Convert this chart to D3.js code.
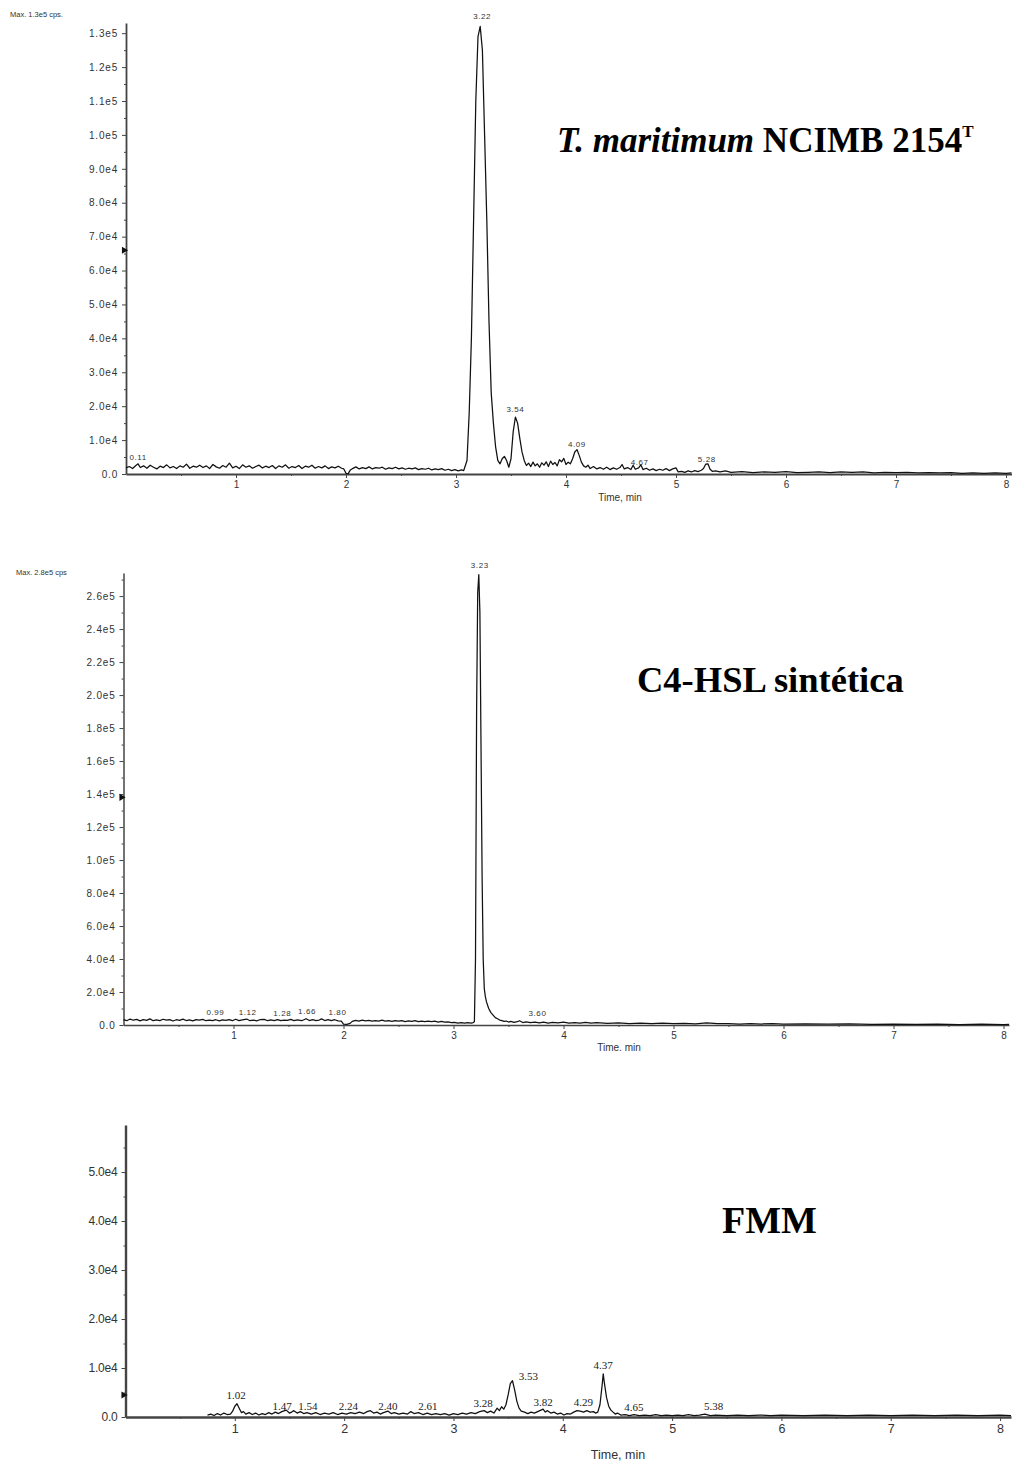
<!DOCTYPE html>
<html>
<head>
<meta charset="utf-8">
<script src="https://cdn.jsdelivr.net/npm/d3@7"></script>
<style>
  body { margin: 0; background: #fff; }
  svg { display: block; }
  .trace { fill: none; stroke: #111; stroke-width: 1.25; stroke-linejoin: round; }
  .ax path, .ax line { stroke: #444; }
  .ax text { fill: #333; font-family: "Liberation Sans", Arial, sans-serif; }
  .peak { fill: #333; font-family: "Liberation Sans", Arial, sans-serif; font-size: 8px; letter-spacing: 0.6px; }
  .peak3 { fill: #222; font-family: "Liberation Serif", "Times New Roman", serif; font-size: 11px; }
  .title { font-family: "Liberation Serif", "Times New Roman", serif; font-weight: bold; fill: #000; }
</style>
</head>
<body>
<div id="chart"></div>
<script>
// ---- data: time (min), intensity (x1000 cps) ----

// T. maritimum NCIMB 2154T extract
var tmTrace = [
  [0.00,1.8],[0.03,2.2],[0.06,1.6],[0.09,2.5],[0.11,3.0],[0.13,1.9],[0.16,2.4],[0.19,1.7],[0.22,2.6],[0.25,2.0],
  [0.28,1.5],[0.31,2.3],[0.34,1.9],[0.37,2.7],[0.40,1.8],[0.43,2.2],[0.46,1.6],[0.49,2.4],[0.52,2.0],[0.55,2.9],
  [0.58,1.7],[0.61,2.3],[0.64,2.0],[0.67,2.6],[0.70,1.9],[0.73,2.4],[0.76,1.6],[0.79,2.8],[0.82,2.1],[0.85,1.7],
  [0.88,2.5],[0.91,2.0],[0.94,3.2],[0.97,1.8],[1.00,2.3],[1.03,1.6],[1.06,2.7],[1.09,2.0],[1.12,2.4],[1.15,1.7],
  [1.18,2.2],[1.21,2.6],[1.24,1.8],[1.27,2.3],[1.30,1.9],[1.33,2.5],[1.36,1.6],[1.39,2.4],[1.42,2.0],[1.45,2.7],
  [1.48,1.7],[1.51,2.2],[1.54,1.9],[1.57,2.5],[1.60,1.6],[1.63,2.3],[1.66,2.0],[1.69,2.6],[1.72,1.7],[1.75,2.2],
  [1.78,1.8],[1.81,2.4],[1.84,1.6],[1.87,2.1],[1.90,1.8],[1.93,2.3],[1.96,1.7],[1.98,1.5],[2.00,0.2],[2.02,0.1],
  [2.04,1.2],[2.06,1.6],[2.09,2.1],[2.12,1.5],[2.15,1.9],[2.18,1.6],[2.21,2.1],[2.24,1.5],[2.27,1.9],[2.30,1.7],
  [2.33,2.0],[2.36,1.4],[2.39,1.8],[2.42,1.6],[2.45,2.0],[2.48,1.5],[2.51,1.8],[2.54,1.4],[2.57,1.7],[2.60,1.5],
  [2.63,1.8],[2.66,1.3],[2.69,1.6],[2.72,1.4],[2.75,1.7],[2.78,1.2],[2.81,1.5],[2.84,1.3],[2.87,1.6],[2.90,1.1],
  [2.93,1.4],[2.96,1.0],[2.99,1.3],[3.02,0.9],[3.05,1.2],[3.07,1.0],[3.08,2.0],[3.10,4.0],[3.12,18],[3.14,40],
  [3.16,75],[3.18,110],[3.20,129],[3.22,132],[3.24,125],[3.26,100],[3.28,75],[3.30,45],[3.32,24],[3.34,15],
  [3.36,8.0],[3.38,4.0],[3.40,3.0],[3.42,4.5],[3.44,5.2],[3.46,4.0],[3.48,2.0],[3.50,4.5],[3.52,12.5],[3.54,16.8],
  [3.56,15.0],[3.58,10.5],[3.60,6.5],[3.62,4.0],[3.64,2.5],[3.66,3.2],[3.68,2.2],[3.70,3.5],[3.72,2.4],[3.74,3.0],
  [3.76,2.0],[3.78,3.3],[3.80,2.6],[3.82,3.6],[3.84,2.2],[3.86,3.8],[3.88,2.8],[3.90,3.4],[3.92,2.4],[3.94,4.2],
  [3.96,3.6],[3.98,4.6],[4.00,2.8],[4.02,3.5],[4.04,3.0],[4.06,4.5],[4.08,6.5],[4.10,7.2],[4.12,5.5],[4.14,3.5],
  [4.16,2.4],[4.18,2.0],[4.20,2.6],[4.22,1.6],[4.25,2.2],[4.28,1.5],[4.31,1.9],[4.34,1.4],[4.37,2.0],[4.40,1.3],
  [4.43,1.8],[4.46,1.4],[4.49,1.9],[4.51,2.8],[4.53,1.5],[4.56,1.9],[4.59,1.3],[4.61,2.6],[4.63,1.4],[4.66,1.8],
  [4.68,2.7],[4.70,1.3],[4.73,1.7],[4.76,1.1],[4.79,1.5],[4.82,1.0],[4.85,1.4],[4.88,1.1],[4.91,1.6],[4.94,1.0],
  [4.97,1.5],[5.00,1.8],[5.02,0.6],[5.05,0.8],[5.08,0.5],[5.11,0.9],[5.14,0.6],[5.17,1.0],[5.20,0.7],[5.23,1.1],
  [5.25,1.6],[5.27,2.9],[5.29,3.0],[5.31,1.4],[5.33,0.8],[5.36,0.9],[5.40,0.6],[5.45,0.9],[5.50,0.5],[5.60,0.7],
  [5.70,0.4],[5.80,0.6],[5.90,0.5],[6.00,0.7],[6.10,0.4],[6.20,0.5],[6.30,0.6],[6.40,0.4],[6.50,0.6],[6.60,0.5],
  [6.70,0.6],[6.80,0.3],[6.90,0.5],[7.00,0.4],[7.10,0.5],[7.20,0.3],[7.30,0.4],[7.40,0.3],[7.50,0.4],[7.60,0.2],
  [7.70,0.3],[7.80,0.2],[7.90,0.3],[8.00,0.2],[8.05,0.3]
];
var tmPeaks = ["0.11", "3.22", "3.54", "4.09", "4.67", "5.28"];
var tmPeakTops = [3.2, 132, 16.8, 7.2, 2.7, 3.0];
var tmYTicks = [0, 10, 20, 30, 40, 50, 60, 70, 80, 90, 100, 110, 120, 130];
var tmYMinor = [5, 15, 25, 35, 45, 55, 65, 75, 85, 95, 105, 115, 125];

// synthetic C4-HSL standard
var c4Trace = [
  [0.00,3.2],[0.03,2.6],[0.06,3.6],[0.09,2.9],[0.12,3.4],[0.15,2.5],[0.18,3.3],[0.21,2.8],[0.24,3.7],[0.27,2.6],
  [0.30,3.1],[0.33,2.7],[0.36,3.5],[0.39,2.9],[0.42,3.3],[0.45,2.4],[0.48,3.2],[0.51,2.8],[0.54,3.6],[0.57,2.7],
  [0.60,3.1],[0.63,2.5],[0.66,3.3],[0.69,2.9],[0.72,3.4],[0.75,2.6],[0.78,3.0],[0.81,2.7],[0.84,3.2],[0.87,2.5],
  [0.90,3.1],[0.93,2.8],[0.96,3.3],[0.99,2.6],[1.02,3.5],[1.05,2.7],[1.08,3.1],[1.12,3.6],[1.15,2.6],[1.18,3.0],
  [1.21,2.5],[1.24,3.2],[1.28,3.4],[1.31,2.6],[1.34,3.1],[1.37,2.7],[1.40,3.3],[1.43,2.6],[1.46,3.0],[1.49,2.8],
  [1.52,3.4],[1.55,2.7],[1.58,3.1],[1.62,2.6],[1.66,3.8],[1.69,2.7],[1.72,3.2],[1.75,2.6],[1.78,3.0],[1.80,3.7],
  [1.83,2.7],[1.86,3.3],[1.89,2.6],[1.92,3.2],[1.95,2.5],[1.98,2.4],[2.00,0.6],[2.03,0.4],[2.06,1.0],[2.08,2.2],
  [2.11,2.8],[2.14,2.4],[2.17,2.9],[2.20,2.5],[2.23,2.8],[2.26,2.3],[2.29,2.7],[2.32,2.4],[2.35,2.9],[2.38,2.3],
  [2.41,2.6],[2.44,2.2],[2.47,2.7],[2.50,2.3],[2.53,2.6],[2.56,2.1],[2.59,2.5],[2.62,2.2],[2.65,2.6],[2.68,2.1],
  [2.71,2.4],[2.74,2.0],[2.77,2.4],[2.80,2.1],[2.83,2.3],[2.86,1.8],[2.89,2.2],[2.92,1.7],[2.95,1.9],[2.98,1.5],
  [3.01,1.6],[3.04,1.2],[3.07,1.4],[3.10,1.1],[3.13,1.4],[3.16,1.2],[3.18,1.5],[3.19,2.0],[3.20,40],[3.21,190],
  [3.22,262],[3.23,273],[3.24,250],[3.25,170],[3.26,90],[3.27,40],[3.28,22],[3.29,17],[3.30,14],[3.32,10],
  [3.34,7.5],[3.36,6.0],[3.38,4.5],[3.40,3.8],[3.42,3.0],[3.44,2.6],[3.46,2.2],[3.48,2.4],[3.50,1.8],[3.52,2.2],
  [3.55,1.6],[3.58,2.0],[3.60,2.6],[3.63,1.5],[3.66,1.9],[3.70,1.4],[3.74,1.8],[3.78,1.3],[3.82,1.7],[3.86,1.2],
  [3.90,1.6],[3.95,1.3],[4.00,1.7],[4.05,1.2],[4.10,1.5],[4.15,1.1],[4.20,1.6],[4.25,1.2],[4.30,1.4],[4.40,1.0],
  [4.50,1.3],[4.60,0.9],[4.70,1.2],[4.80,0.8],[4.90,1.1],[5.00,0.8],[5.10,1.0],[5.20,0.7],[5.30,1.3],[5.40,0.8],
  [5.50,0.9],[5.60,0.6],[5.70,0.8],[5.80,0.6],[5.90,0.8],[6.00,0.5],[6.20,0.7],[6.40,0.5],[6.60,0.7],[6.80,0.4],
  [7.00,0.6],[7.20,0.4],[7.40,0.5],[7.60,0.3],[7.80,0.5],[8.00,0.3],[8.05,0.4]
];
var c4Peaks = ["0.99", "1.12", "1.28", "1.66", "1.80", "3.23", "3.60"];
var c4PeakTops = [3.3, 3.6, 3.4, 3.8, 3.7, 273, 2.6];
var c4YTicks = [0, 20, 40, 60, 80, 100, 120, 140, 160, 180, 200, 220, 240, 260];
var c4YMinor = [10, 30, 50, 70, 90, 110, 130, 150, 170, 190, 210, 230, 250, 270];

// FMM culture medium blank
var fmmTrace = [
  [0.75,0.4],[0.78,0.6],[0.81,0.3],[0.84,0.7],[0.87,0.4],[0.90,0.8],[0.93,0.5],[0.96,0.6],[0.98,1.2],[1.00,2.2],
  [1.02,2.7],[1.04,1.8],[1.06,0.9],[1.08,1.1],[1.10,0.6],[1.13,0.9],[1.16,0.5],[1.19,0.8],[1.22,0.4],[1.25,0.7],
  [1.28,0.5],[1.31,0.9],[1.34,0.6],[1.37,1.0],[1.40,0.7],[1.43,1.1],[1.47,1.4],[1.50,0.8],[1.52,1.0],[1.54,1.3],
  [1.57,0.8],[1.60,1.1],[1.63,0.7],[1.66,0.9],[1.70,0.6],[1.74,0.9],[1.78,0.5],[1.82,0.8],[1.86,0.6],[1.90,0.9],
  [1.94,0.5],[1.98,0.8],[2.02,0.6],[2.06,0.9],[2.10,0.7],[2.14,1.0],[2.18,0.7],[2.21,1.1],[2.24,1.3],[2.27,0.8],
  [2.30,1.0],[2.33,0.6],[2.36,0.9],[2.40,1.2],[2.43,0.7],[2.46,0.9],[2.50,0.6],[2.54,0.8],[2.58,0.6],[2.61,1.1],
  [2.64,0.7],[2.68,0.9],[2.72,0.5],[2.76,0.8],[2.80,0.5],[2.84,0.7],[2.88,0.5],[2.92,0.7],[2.96,0.4],[3.00,0.7],
  [3.04,0.5],[3.08,0.8],[3.12,0.6],[3.16,0.9],[3.20,0.7],[3.24,1.1],[3.28,1.3],[3.31,0.9],[3.34,1.2],[3.37,0.8],
  [3.40,1.8],[3.42,1.3],[3.44,2.1],[3.46,1.6],[3.48,2.5],[3.50,4.5],[3.52,6.8],[3.54,7.4],[3.56,5.5],[3.58,3.2],
  [3.60,1.8],[3.62,1.2],[3.65,1.0],[3.68,0.7],[3.71,1.0],[3.74,0.8],[3.77,1.1],[3.80,1.4],[3.82,1.6],[3.84,1.0],
  [3.86,1.3],[3.89,0.8],[3.92,1.0],[3.95,0.6],[3.98,0.8],[4.01,0.4],[4.04,0.7],[4.07,0.6],[4.10,1.0],[4.13,1.3],
  [4.16,1.2],[4.19,1.0],[4.22,1.3],[4.25,1.0],[4.28,1.1],[4.30,0.8],[4.32,1.0],[4.34,2.5],[4.36,6.5],[4.37,8.8],
  [4.38,7.0],[4.40,4.0],[4.42,2.2],[4.44,1.4],[4.46,1.0],[4.48,0.6],[4.50,0.8],[4.53,0.4],[4.57,0.5],[4.61,0.3],
  [4.65,0.5],[4.70,0.3],[4.75,0.4],[4.80,0.3],[4.85,0.5],[4.90,0.3],[4.95,0.4],[5.00,0.3],[5.05,0.4],[5.10,0.3],
  [5.15,0.5],[5.20,0.3],[5.25,0.4],[5.30,0.6],[5.35,0.3],[5.40,0.4],[5.50,0.3],[5.60,0.4],[5.70,0.3],[5.80,0.4],
  [5.90,0.3],[6.00,0.4],[6.20,0.3],[6.40,0.4],[6.60,0.3],[6.80,0.4],[7.00,0.3],[7.20,0.4],[7.40,0.3],[7.60,0.4],
  [7.80,0.3],[8.00,0.4],[8.10,0.3]
];
var fmmPeaks = ["1.02", "1.47", "1.54", "2.24", "2.40", "2.61", "3.28", "3.53", "3.82", "4.29", "4.37", "4.65", "5.38"];
var fmmPeakTops = [2.7, 1.4, 1.3, 1.3, 1.2, 1.1, 1.3, 7.4, 1.6, 1.1, 8.8, 0.5, 0.6];
var fmmYTicks = [0, 10, 20, 30, 40, 50];
var fmmYMinor = [5, 15, 25, 35, 45, 55];

var timeTicks = [1, 2, 3, 4, 5, 6, 7, 8];
var timeMinor = [0.5, 1.5, 2.5, 3.5, 4.5, 5.5, 6.5, 7.5];

// ---- layout (label nudges in px: [dx, dy]) ----
var tmShift = [[0,-3],[2,-7.5],[0,-5],[1,-3],[0,0],[0,-2]];
var c4Shift = [[-17,-5],[1,-4],[18,-3],[1,-5],[16,-4],[1,-6.5],[18,-5]];
var fmmShift = [[-1,-5],[-4,0],[14,-1],[-22,-1],[0,-1],[17,-2],[-1,-4],[17,-1],[0,-3],[-11,-6],[0,-5],[0,-3.5],[0,-4]];

var svg = d3.select("#chart").append("svg")
    .attr("width", 1013)
    .attr("height", 1463);

function sciLabel(k) {
    if (k === 0) return "0.0";
    return (k * 1000).toExponential(1).replace("+", "");
}

function drawPanel(p) {
    var x = d3.scaleLinear().domain([0, p.tMax]).range([p.x0, p.x1]);
    var y = d3.scaleLinear().domain([0, p.yMax]).range([p.yBase, p.yTop]);
    var g = svg.append("g");

    // y axis, major + minor ticks
    g.append("g").attr("class", "ax")
        .attr("transform", "translate(" + p.x0 + ",0)")
        .call(d3.axisLeft(y).tickValues(p.yTicks).tickFormat(sciLabel).tickSize(4).tickSizeOuter(0).tickPadding(4))
        .call(function(a) {
            a.select(".domain").attr("stroke-width", p.axW);
            a.selectAll("text").style("font-size", p.yFont + "px").style("letter-spacing", p.ySpace + "px");
        });
    g.append("g").attr("class", "ax")
        .attr("transform", "translate(" + p.x0 + ",0)")
        .call(d3.axisLeft(y).tickValues(p.yMinor).tickFormat("").tickSize(2).tickSizeOuter(0))
        .call(function(a) { a.select(".domain").remove(); });

    // x axis
    g.append("g").attr("class", "ax")
        .attr("transform", "translate(0," + p.yBase + ")")
        .call(d3.axisBottom(x).tickValues(timeTicks).tickFormat(d3.format("d")).tickSize(4).tickSizeOuter(0).tickPadding(3))
        .call(function(a) {
            a.select(".domain").attr("stroke-width", p.axW);
            a.selectAll("text").style("font-size", p.xFont + "px");
        });
    g.append("g").attr("class", "ax")
        .attr("transform", "translate(0," + p.yBase + ")")
        .call(d3.axisBottom(x).tickValues(timeMinor).tickFormat("").tickSize(2).tickSizeOuter(0))
        .call(function(a) { a.select(".domain").remove(); });

    g.append("text").attr("class", "ax")
        .attr("x", p.xLabelX).attr("y", p.xLabelY)
        .attr("text-anchor", "middle")
        .style("font-family", "Liberation Sans, Arial, sans-serif")
        .style("font-size", p.xFont + "px").style("fill", "#333")
        .text(p.xLabel);

    // half-scale marker on the y axis
    g.append("path")
        .attr("d", d3.symbol(d3.symbolTriangle, 22)())
        .attr("transform", "translate(" + (p.x0 - 2) + "," + y(p.marker) + ") rotate(90)")
        .attr("fill", "#111");

    // trace
    var line = d3.line()
        .x(function(d) { return x(d[0]); })
        .y(function(d) { return y(d[1]); });
    g.append("path")
        .datum(p.trace)
        .attr("class", "trace")
        .attr("d", line);

    // retention time labels
    g.selectAll(".lbl").data(p.peaks).enter().append("text")
        .attr("class", p.peakClass)
        .attr("x", function(d, i) { return x(+d) + p.shift[i][0]; })
        .attr("y", function(d, i) { return y(p.tops[i]) + p.shift[i][1]; })
        .attr("text-anchor", "middle")
        .text(function(d) { return d; });

    if (p.maxText) {
        g.append("text")
            .attr("x", p.maxX).attr("y", p.maxY)
            .style("font-family", "Liberation Sans, Arial, sans-serif")
            .style("font-size", "7.5px").style("fill", "#333")
            .text(p.maxText);
    }
}

drawPanel({
    trace: tmTrace, peaks: tmPeaks, tops: tmPeakTops, shift: tmShift, peakClass: "peak",
    yTicks: tmYTicks, yMinor: tmYMinor, yMax: 133, tMax: 8.05,
    x0: 126, x1: 1011.5, yBase: 474, yTop: 23, axW: 1.8, yFont: 10, ySpace: 0.8, xFont: 10,
    xLabel: "Time, min", xLabelX: 620, xLabelY: 501, marker: 66,
    maxText: "Max. 1.3e5 cps.", maxX: 10, maxY: 17
});

drawPanel({
    trace: c4Trace, peaks: c4Peaks, tops: c4PeakTops, shift: c4Shift, peakClass: "peak",
    yTicks: c4YTicks, yMinor: c4YMinor, yMax: 274, tMax: 8.05,
    x0: 123.5, x1: 1009, yBase: 1025, yTop: 573, axW: 1.5, yFont: 10, ySpace: 0.8, xFont: 10,
    xLabel: "Time. min", xLabelX: 619, xLabelY: 1051, marker: 138,
    maxText: "Max. 2.8e5 cps", maxX: 16, maxY: 575
});

drawPanel({
    trace: fmmTrace, peaks: fmmPeaks, tops: fmmPeakTops, shift: fmmShift, peakClass: "peak3",
    yTicks: fmmYTicks, yMinor: fmmYMinor, yMax: 59.6, tMax: 8.1,
    x0: 125.5, x1: 1011, yBase: 1417, yTop: 1125, axW: 2.4, yFont: 12, ySpace: -0.2, xFont: 12.5,
    xLabel: "Time, min", xLabelX: 618, xLabelY: 1459, marker: 4.5,
    maxText: null
});

// panel titles
var t1 = svg.append("text").attr("class", "title").attr("x", 557).attr("y", 152).style("font-size", "35px");
t1.append("tspan").style("font-style", "italic").text("T. maritimum");
t1.append("tspan").text(" NCIMB 2154");
t1.append("tspan").attr("dy", -15).style("font-size", "17px").text("T");

svg.append("text").attr("class", "title").attr("x", 637).attr("y", 692).style("font-size", "36.5px")
    .text("C4-HSL sintética");

svg.append("text").attr("class", "title").attr("x", 722).attr("y", 1233).style("font-size", "38px")
    .text("FMM");
</script>
</body>
</html>
